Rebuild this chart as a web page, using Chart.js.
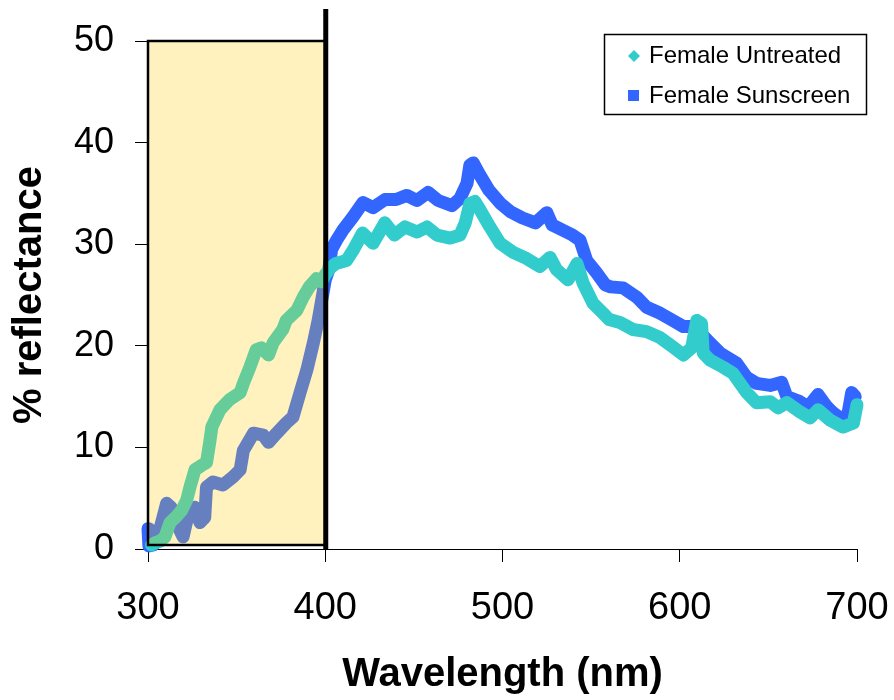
<!DOCTYPE html>
<html>
<head>
<meta charset="utf-8">
<script src="https://cdn.jsdelivr.net/npm/chart.js@4/dist/chart.umd.min.js"></script>
<style>
html,body{margin:0;padding:0;background:#fff;}
#wrap{width:894px;height:700px;}
</style>
</head>
<body>
<div id="wrap"><canvas id="c" width="894" height="700"></canvas></div>
<script>
// Wavelength (nm) and % reflectance
const untreatedNm = [302,304,307,309.6,312.4,316,319,321.8,323.7,326.5,330,333,335,336,340.6,346,352,353.8,357.5,361,364,368,370.6,376,378,384,387.6,391,395,398,400,403,406,412,415.7,421,427,433.6,439,445,451.8,457.4,463,470.5,476,479,481.6,484.4,487.3,492.9,498.6,506,513.5,521,526.8,530.5,537,542,545.4,551,556.8,560,566.3,573.6,581.3,589,596,602,606.7,609.6,612.3,613.2,617,624.4,630,637.7,643.3,651,655.5,660.4,667.8,673.5,678,684.7,692,698,700];
const untreatedVal = [0.4,0.6,0.8,1.2,2.6,3.2,3.8,4.8,6.1,7.8,8.2,8.5,10.7,12,13.7,14.7,15.4,16.3,17.9,19.6,19.8,19.1,20.3,21.6,22.5,23.5,24.8,25.8,26.6,26.3,27,27.7,28.1,28.4,29.4,31.1,30.1,32.1,30.9,31.7,31.2,31.7,30.9,30.6,30.9,32.1,34.0,34.2,33.4,31.7,30.1,29.2,28.6,27.8,28.7,27.5,26.5,28.1,26.2,24.2,23.2,22.6,22.3,21.6,21.4,20.8,19.9,19.1,19.8,22.5,22.2,19.3,18.6,17.9,17.3,15.4,14.4,14.5,13.9,14.4,13.5,12.9,13.7,12.7,12.0,12.4,14.2];

const sunscreenNm = [300,300.5,303,305,307.7,310.5,313,317,319.8,321.5,323.7,326.5,329.3,332,333,336.7,342.3,348,352,353.8,359.5,365,368,372.6,378,381.8,385.8,389.6,393.3,396,398,400,402,403.6,406.4,410,415.7,421.3,427,433.7,440,446,451.7,458,463.7,471.5,476,480,481.6,483.5,486.6,492.4,498.9,504.5,511,518.6,525,528,533.8,539.5,543.7,547.5,553,558,561,568,575.7,581.3,589,596,602,607.6,611.4,617,622.7,632,637.7,643.3,651,657.5,660.4,667.8,672.5,678,683,686.5,692,695,697,699];
const sunscreenVal = [2.0,0.3,0.4,0.9,2.6,4.5,4.1,2.2,1.2,2.5,4.0,4.1,2.6,3.1,6.1,6.6,6.3,7.1,7.8,9.7,11.4,11.2,10.5,11.4,12.4,13,15.4,17.6,20.3,22.5,24.5,26.5,27.5,29.5,30.4,31.4,32.7,34.1,33.6,34.4,34.4,34.8,34.3,35.1,34.3,33.8,34.5,36,37.8,38,37,35.3,34,33.2,32.6,32.1,33.1,31.9,31.4,30.9,30.4,28.4,27.2,26.0,25.8,25.7,24.8,23.8,23.2,22.5,21.9,21.9,21.3,20.3,19.3,18.3,16.9,16.3,16.1,16.4,15.0,14.5,14.0,15.2,14.0,13.4,12.7,13.4,15.4,15.0];

const seriesNames = ['Female Untreated','Female Sunscreen'];
const xTicks = [300,400,500,600,700];
const yTicks = [0,10,20,30,40,50];
const uvBand = [300,400];

const TEAL = '#33CCCC';
const BLUE = '#3366FF';
const FONT = '"Liberation Sans", Arial, sans-serif';

function pts(xs, ys){ return xs.map((v,i)=>({x:v,y:ys[i]})); }

const overlay = {
  id:'overlay',
  afterDatasetsDraw(chart){
    const ctx = chart.ctx, xs = chart.scales.x, ys = chart.scales.y;
    const l = xs.getPixelForValue(uvBand[0]), r = xs.getPixelForValue(uvBand[1]);
    const t = ys.getPixelForValue(50), b = ys.getPixelForValue(0) - 4;
    ctx.save();
    ctx.fillStyle = 'rgba(255,204,0,0.25)';
    ctx.fillRect(l, t, r - l, b - t);
    ctx.strokeStyle = '#000';
    ctx.lineWidth = 2.5;
    ctx.strokeRect(l, t, r - l, b - t);
    ctx.lineWidth = 5;
    ctx.beginPath();
    ctx.moveTo(r + 0.5, 9);
    ctx.lineTo(r + 0.5, ys.getPixelForValue(0));
    ctx.stroke();
    ctx.restore();
  },
  afterDraw(chart){
    const ctx = chart.ctx;
    ctx.save();
    ctx.strokeStyle = '#000';
    ctx.lineWidth = 1.5;
    ctx.fillStyle = '#fff';
    ctx.fillRect(604.5, 34.5, 262, 80);
    ctx.strokeRect(604.5, 34.5, 262, 80);
    ctx.fillStyle = TEAL;
    ctx.beginPath();
    ctx.moveTo(634, 50); ctx.lineTo(640, 56); ctx.lineTo(634, 62); ctx.lineTo(628, 56); ctx.closePath();
    ctx.fill();
    ctx.fillStyle = BLUE;
    ctx.fillRect(628, 90, 11, 11);
    ctx.fillStyle = '#000';
    ctx.font = '24px ' + FONT;
    ctx.textBaseline = 'middle';
    ctx.textAlign = 'left';
    ctx.fillText(seriesNames[0], 649, 56);
    ctx.fillText(seriesNames[1], 649, 96);
    ctx.restore();
  }
};

new Chart(document.getElementById('c'), {
  type:'line',
  data:{
    datasets:[
      {label:seriesNames[0], data:pts(untreatedNm, untreatedVal), borderColor:TEAL, backgroundColor:TEAL,
       borderWidth:13, pointRadius:0, tension:0, borderJoinStyle:'round', borderCapStyle:'round', clip:false, fill:false},
      {label:seriesNames[1], data:pts(sunscreenNm, sunscreenVal), borderColor:BLUE, backgroundColor:BLUE,
       borderWidth:13, pointRadius:0, tension:0, borderJoinStyle:'round', borderCapStyle:'round', clip:false, fill:false}
    ]
  },
  options:{
    responsive:false,
    devicePixelRatio:1,
    animation:false,
    layout:{padding:{left:0,right:37,top:41,bottom:0}},
    plugins:{legend:{display:false}, tooltip:{enabled:false}},
    scales:{
      x:{
        type:'linear', min:300, max:700,
        afterBuildTicks(s){ s.ticks = xTicks.map(v=>({value:v})); },
        afterFit(s){ s.height = 151; s.paddingLeft = 0; s.paddingRight = 0; },
        grid:{drawOnChartArea:false, drawTicks:true, tickLength:13, tickColor:'#000'},
        border:{display:true, color:'#000', width:1},
        ticks:{color:'#000', padding:24, maxRotation:0, font:{family:FONT, size:38}},
        title:{display:true, text:'Wavelength (nm)', color:'#000', padding:{top:0,bottom:1},
               font:{family:FONT, size:40, weight:'bold'}}
      },
      y:{
        type:'linear', min:0, max:50,
        afterBuildTicks(s){ s.ticks = yTicks.map(v=>({value:v})); },
        afterFit(s){ s.width = 148; s.paddingTop = 0; s.paddingBottom = 0; },
        grid:{drawOnChartArea:false, drawTicks:true, tickLength:13, tickColor:'#000'},
        border:{display:true, color:'#000', width:1},
        ticks:{color:'#000', padding:21, font:{family:FONT, size:36}},
        title:{display:true, text:'% reflectance', color:'#000', padding:{top:6,bottom:0},
               font:{family:FONT, size:40, weight:'bold'}}
      }
    }
  },
  plugins:[overlay]
});
</script>
</body>
</html>
